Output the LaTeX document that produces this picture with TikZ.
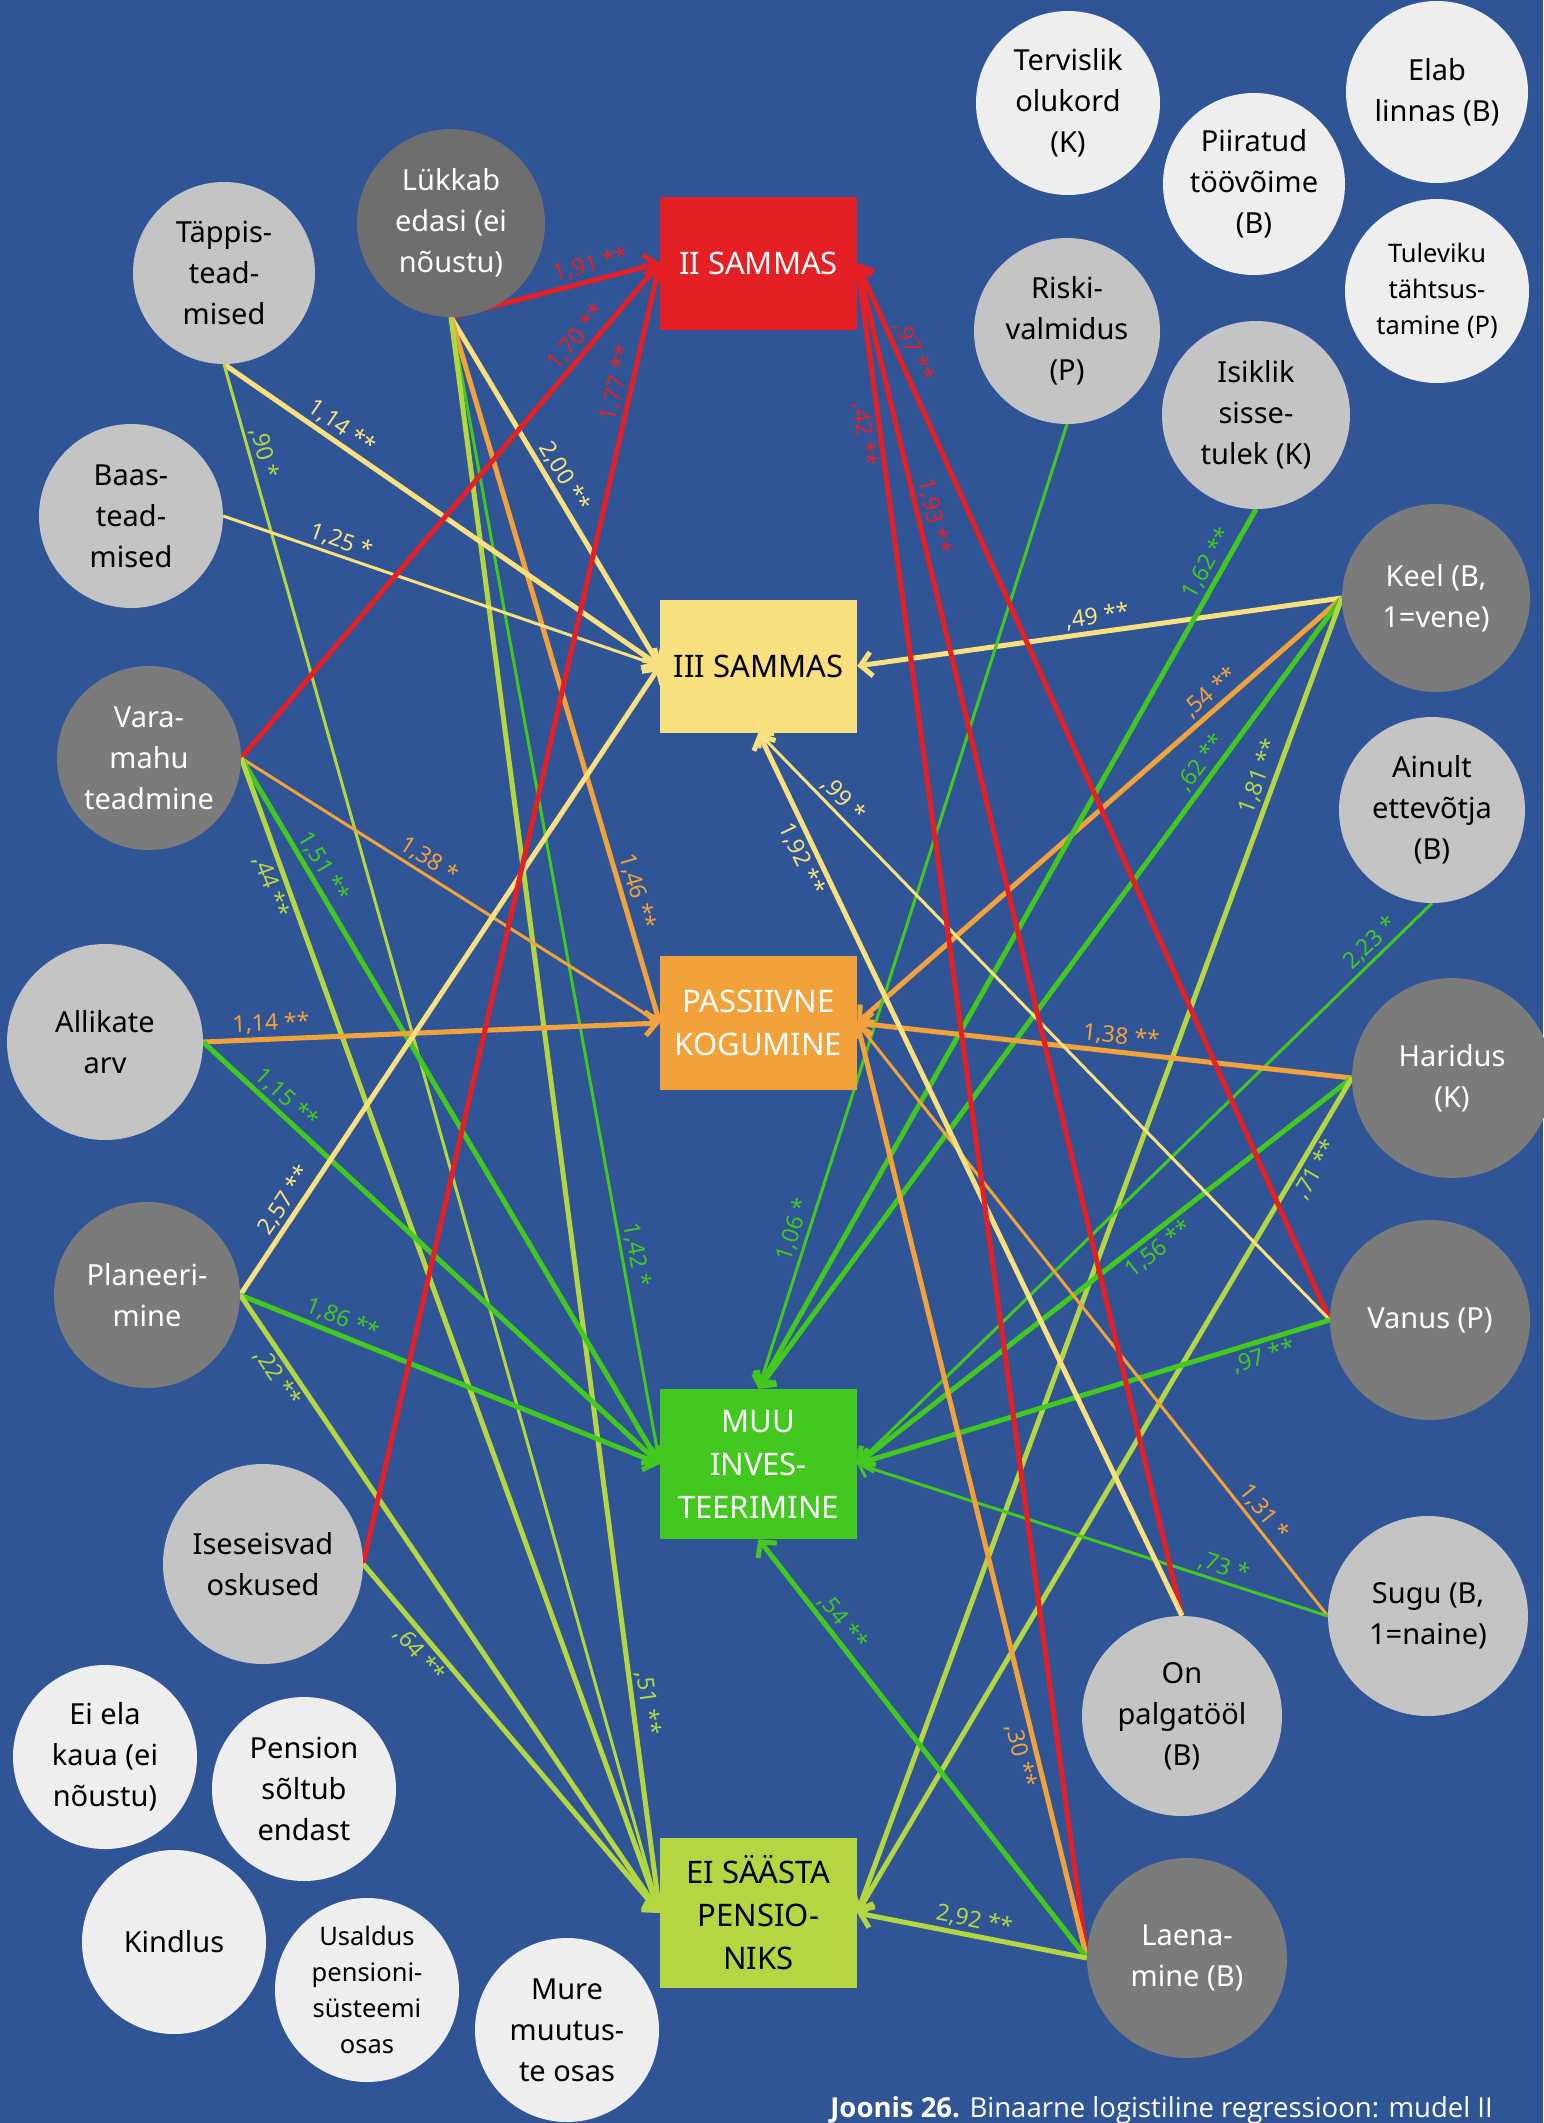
\documentclass[tikz,border=0pt]{standalone}
\usepackage{fontspec}
\setmainfont{Noto Sans}
\newfontfamily\capfont{Open Sans}
\usetikzlibrary{arrows.meta}
\definecolor{bgblue}{HTML}{2F5597}
\definecolor{cred}{HTML}{E42024}
\definecolor{cyel}{HTML}{F9E07F}
\definecolor{corange}{HTML}{F2A23A}
\definecolor{cgreen}{HTML}{42C81E}
\definecolor{clime}{HTML}{B4D741}
\definecolor{cdark}{HTML}{7B7B7B}
\definecolor{cdarker}{HTML}{6E6E6E}
\definecolor{cmid}{HTML}{C4C4C4}
\definecolor{clight}{HTML}{EEEEEE}
\pgfdeclarelayer{bg}
\pgfdeclarelayer{edges}
\pgfsetlayers{bg,edges,main}
\tikzset{
  circ/.style={circle, inner sep=-16pt, minimum size=#1, align=center, font=\fontsize{29}{41}\selectfont},
  darkc/.style={circ={#1}, fill=cdark, text=white},
  midc/.style={circ={#1}, fill=cmid, text=black},
  lightc/.style={circ={#1}, fill=clight, text=black},
  smalltxt/.style={font=\fontsize{25.5}{36}\selectfont},
  outbox/.style={rectangle, minimum width=197pt, minimum height=#1, inner sep=0pt, align=center, font=\fontsize{31}{43}\selectfont},
  sig/.style={line width=5pt, -{Straight Barb[length=11pt,width=24pt]}},
  nsig/.style={line width=3pt, -{Straight Barb[length=10pt,width=20pt]}},
  lab/.style={sloped, font=\fontsize{23}{23}\selectfont, inner sep=3pt},
}
\begin{document}
\begin{tikzpicture}[x=1pt,y=-1pt]
\useasboundingbox (0,0) rectangle (1543,2123);
\begin{pgfonlayer}{bg}
\fill[bgblue] (0,0) rectangle (1543,2123);
\end{pgfonlayer}
% outcome boxes
\node[outbox=133pt, fill=cred, text=white] (II) at (758.5,263) {II SAMMAS};
\node[outbox=133pt, fill=cyel, text=black] (III) at (758.5,666) {III SAMMAS};
\node[outbox=134pt, fill=corange, text=white] (pass) at (758.5,1023) {PASSIIVNE\\KOGUMINE};
\node[outbox=150pt, fill=cgreen, text=white] (muu) at (758.5,1464) {MUU\\INVES-\\TEERIMINE};
\node[outbox=150pt, fill=clime, text=black] (ei) at (758.5,1913) {EI SÄÄSTA\\PENSIO-\\NIKS};
% left circles
\node[midc=182pt] (tappis) at (224,273) {Täppis-\\tead-\\mised};
\node[darkc=188pt, fill=cdarker] (lukkab) at (451,223) {Lükkab\\edasi (ei\\nõustu)};
\node[midc=184pt] (baas) at (131,516) {Baas-\\tead-\\mised};
\node[darkc=184pt] (vara) at (149,758) {Vara-\\mahu\\teadmine};
\node[midc=196pt] (allikate) at (105,1042) {Allikate\\arv};
\node[darkc=186pt] (plan) at (147,1295) {Planeeri-\\mine};
\node[midc=200pt] (ise) at (263,1564) {Iseseisvad\\oskused};
\node[lightc=184pt] (eiela) at (105,1757) {Ei ela\\kaua (ei\\nõustu)};
\node[lightc=184pt] (pension) at (304,1789) {Pension\\sõltub\\endast};
\node[lightc=184pt] (kindlus) at (174,1942) {Kindlus};
\node[lightc=184pt, smalltxt] (usaldus) at (367,1990) {Usaldus\\pensioni-\\süsteemi\\osas};
\node[lightc=184pt] (mure) at (567,2030) {Mure\\muutus-\\te osas};
% right circles
\node[lightc=184pt] (terv) at (1068,103) {Tervislik\\olukord\\(K)};
\node[lightc=182pt] (piir) at (1254,184) {Piiratud\\töövõime\\(B)};
\node[lightc=182pt] (elab) at (1437,92) {Elab\\linnas (B)};
\node[lightc=184pt, smalltxt] (tul) at (1437,291) {Tuleviku\\tähtsus-\\tamine (P)};
\node[midc=186pt] (riski) at (1067,331) {Riski-\\valmidus\\(P)};
\node[midc=188pt] (isik) at (1256,415) {Isiklik\\sisse-\\tulek (K)};
\node[darkc=188pt] (keel) at (1436,598) {Keel (B,\\1=vene)};
\node[midc=186pt] (ainult) at (1432,810) {Ainult\\ettevõtja\\(B)};
\node[darkc=200pt] (haridus) at (1452,1078) {Haridus\\(K)};
\node[darkc=200pt] (vanus) at (1430,1320) {Vanus (P)};
\node[midc=200pt] (sugu) at (1428,1616) {Sugu (B,\\1=naine)};
\node[midc=200pt] (palg) at (1182,1716) {On\\palgatööl\\(B)};
\node[darkc=200pt] (laen) at (1187,1958) {Laena-\\mine (B)};
% caption
\node[anchor=base east, text=white, inner sep=0pt, font=\capfont\fontsize{27.5}{32}\selectfont] (cap) at (1493,2117) {\textbf{Joonis 26.} Binaarne logistiline regressioon: mudel II};
\begin{pgfonlayer}{edges}
% Lukkab
\draw[sig,cred] (lukkab.south) -- node[lab,pos=.69,above]{1,91 **} (II.west);
\draw[sig,cyel] (lukkab.south) -- node[lab,pos=.48,above]{2,00 **} (III.west);
\draw[sig,corange] (lukkab.south) -- node[lab,pos=.82,above]{1,46 **} (pass.west);
\draw[nsig,cgreen] (lukkab.south) -- node[lab,pos=.82,above]{1,42 *} (muu.west);
\draw[sig,clime] (lukkab.south) -- node[lab,pos=.87,above]{,51 **} (ei.west);
% Tappis
\draw[sig,cyel] (tappis.south) -- node[lab,pos=.25,above]{1,14 **} (III.west);
\draw[nsig,clime] (tappis.south) -- node[lab,pos=.06,above]{,90 *} (ei.west);
% Baas
\draw[nsig,cyel] (baas.east) -- node[lab,pos=.26,above]{1,25 *} (III.west);
% Vara
\draw[sig,cred] (vara.east) -- node[lab,pos=.83,above]{1,70 **} (II.west);
\draw[nsig,corange] (vara.east) -- node[lab,pos=.43,above]{1,38 *} (pass.west);
\draw[sig,cgreen] (vara.east) -- node[lab,pos=.165,above]{1,51 **} (muu.west);
\draw[sig,clime] (vara.east) -- node[lab,pos=.107,below]{,44 **} (ei.west);
% Allikate
\draw[sig,corange] (allikate.east) -- node[lab,pos=.15,above]{1,14 **} (pass.west);
\draw[sig,cgreen] (allikate.east) -- node[lab,pos=.16,above]{1,15 **} (muu.west);
% Planeerimine
\draw[sig,cyel] (plan.east) -- node[lab,pos=.137,above]{2,57 **} (III.west);
\draw[sig,cgreen] (plan.east) -- node[lab,pos=.23,above]{1,86 **} (muu.west);
\draw[sig,clime] (plan.east) -- node[lab,pos=.12,below]{,22 **} (ei.west);
% Iseseisvad
\draw[sig,cred] (ise.east) -- node[lab,pos=.905,above]{1,77 **} (II.west);
\draw[sig,clime] (ise.east) -- node[lab,pos=.23,below]{,64 **} (ei.west);
% Keel
\draw[sig,cyel] (keel.west) -- node[lab,pos=.5,above]{,49 **} (III.east);
\draw[sig,corange] (keel.west) -- node[lab,pos=.25,above]{,54 **} (pass.east);
\draw[sig,cgreen] (keel.west) -- node[lab,pos=.22,above]{,62 **} (muu.north);
\draw[sig,clime] (keel.west) -- node[lab,pos=.14,above]{1,81 **} (ei.east);
% Riski
\draw[nsig,cgreen] (riski.south) -- node[lab,pos=.84,above]{1,06 *} (muu.north);
% Isiklik
\draw[sig,cgreen] (isik.south) -- node[lab,pos=.07,above]{1,62 **} (muu.north);
% Ainult
\draw[nsig,cgreen] (ainult.south) -- node[lab,pos=.09,above]{2,23 *} (muu.east);
% Haridus
\draw[sig,corange] (haridus.west) -- node[lab,pos=.47,above]{1,38 **} (pass.east);
\draw[sig,cgreen] (haridus.west) -- node[lab,pos=.41,below]{1,56 **} (muu.east);
\draw[sig,clime] (haridus.west) -- node[lab,pos=.1,below]{,71 **} (ei.east);
% Vanus
\draw[sig,cred] (vanus.west) -- node[lab,pos=.91,above]{,97 **} (II.east);
\draw[nsig,cyel] (vanus.west) -- node[lab,pos=.87,above]{,99 *} (III.south);
\draw[sig,cgreen] (vanus.west) -- node[lab,pos=.15,below]{,97 **} (muu.east);
% Sugu
\draw[nsig,corange] (sugu.west) -- node[lab,pos=.16,above]{1,31 *} (pass.east);
\draw[nsig,cgreen] (sugu.west) -- node[lab,pos=.23,above]{,73 *} (muu.east);
% On palgatool
\draw[sig,cred] (palg.north) -- node[lab,pos=.81,above]{1,93 **} (II.east);
\draw[sig,cyel] (palg.north) -- node[lab,pos=.865,below]{1,92 **} (III.south);
% Laenamine
\draw[sig,cred] (laen.west) -- node[lab,pos=.9,below]{,42 **} (II.east);
\draw[sig,corange] (laen.west) -- node[lab,pos=.22,below]{,30 **} (pass.east);
\draw[sig,cgreen] (laen.west) -- node[lab,pos=.78,above]{,54 **} (muu.south);
\draw[sig,clime] (laen.west) -- node[lab,pos=.5,above]{2,92 **} (ei.east);
\end{pgfonlayer}
\end{tikzpicture}
\end{document}
